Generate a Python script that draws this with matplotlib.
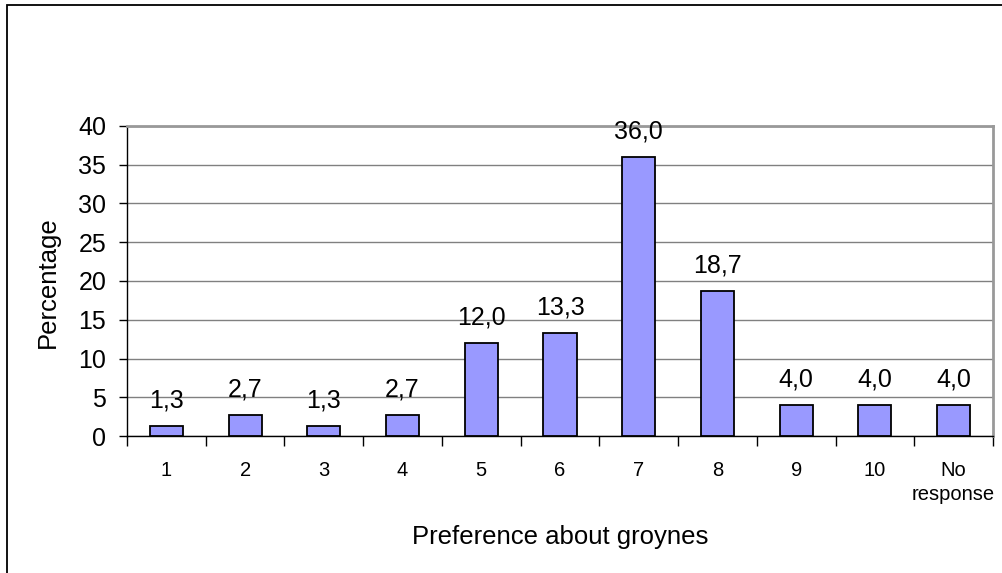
import matplotlib
matplotlib.use("Agg")
import matplotlib.pyplot as plt
from matplotlib.patches import Rectangle
import numpy as np

# survey answers, share of respondents per score
categories = ["1", "2", "3", "4", "5", "6", "7", "8", "9", "10", "No\nresponse"]
percentages = [1.3, 2.7, 1.3, 2.7, 12.0, 13.3, 36.0, 18.7, 4.0, 4.0, 4.0]
y_ticks = [0, 5, 10, 15, 20, 25, 30, 35, 40]

plt.rcParams["font.family"] = ["Liberation Sans", "DejaVu Sans"]

W, H = 1002, 573
fig = plt.figure(figsize=(W / 100, H / 100), dpi=100)

# outer chart frame (runs off the right and bottom edges)
fig.add_artist(Rectangle((7 / W, -0.05), 1.2, (H - 5) / H + 0.05,
                         transform=fig.transFigure, fill=False,
                         edgecolor="black", linewidth=1.3, clip_on=False))

ax = fig.add_axes([127 / W, 137 / H, (993 - 127) / W, (436 - 126) / H])

x = np.arange(len(categories))
ax.bar(x, percentages, width=0.42, color="#9999FF", edgecolor="black",
       linewidth=1.3, zorder=3)

for xi, v in zip(x, percentages):
    ax.annotate(f"{v:.1f}".replace(".", ","), (xi, v), xytext=(0, 13.5),
                textcoords="offset points", ha="center", va="baseline",
                fontsize=18, zorder=4)

ax.set_xlim(-0.5, len(categories) - 0.5)
ax.set_ylim(0, 40)
ax.set_yticks(y_ticks)
ax.yaxis.grid(True, color="#808080", linewidth=1.0, zorder=0)
ax.tick_params(axis="y", labelsize=18, length=6, width=1, direction="out", pad=9)

# category boundaries get the tick marks, labels sit in between
ax.set_xticks(np.arange(len(categories) + 1) - 0.5)
ax.set_xticklabels([])
ax.set_xticks(x, minor=True)
ax.set_xticklabels(categories, minor=True, fontsize=14.5, linespacing=1.3)
ax.tick_params(axis="x", which="major", length=7, width=1, direction="out")
ax.tick_params(axis="x", which="minor", length=0, pad=18)

for side in ["left", "bottom"]:
    ax.spines[side].set_color("black")
    ax.spines[side].set_linewidth(1.0)
for side in ["top", "right"]:
    ax.spines[side].set_color("#999999")
    ax.spines[side].set_linewidth(2.0)

fig.text(560 / W, 1 - 537 / H, "Preference about groynes", ha="center",
         va="center", fontsize=18.5)
fig.text(48 / W, 1 - 282 / H, "Percentage", ha="center", va="center",
         rotation=90, fontsize=18.5)

fig.savefig("out.png", dpi=100)
